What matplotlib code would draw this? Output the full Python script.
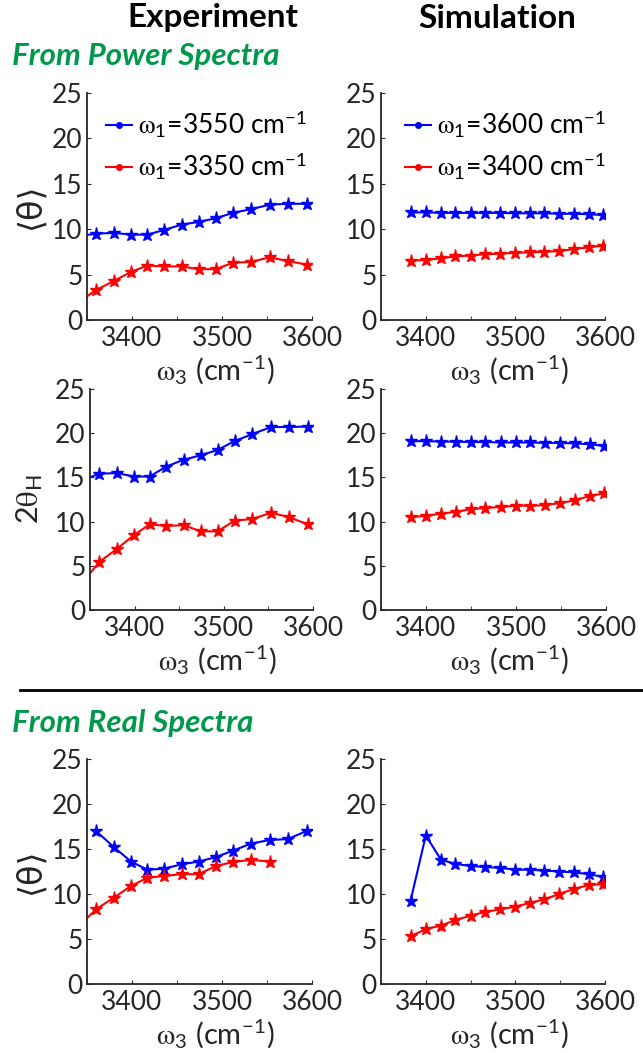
import numpy as np
import matplotlib
matplotlib.use('Agg')
import matplotlib.pyplot as plt
from matplotlib.lines import Line2D
from matplotlib.ticker import MultipleLocator

plt.rcParams['font.family'] = ['Lato', 'DejaVu Sans']
plt.rcParams['mathtext.fontset'] = 'stix'

# omega_3 axes (first experimental point sits just left of the window, so the line runs to the edge)
exp_w3 = [3341, 3360, 3380, 3399, 3417, 3435, 3455, 3474, 3493, 3512, 3532, 3553, 3573, 3594]
sim_w3 = [3383, 3400, 3417, 3433, 3450, 3466, 3483, 3500, 3516, 3532, 3549, 3565, 3582, 3598]

# From power spectra, <theta>
pow_exp_hi = [9.25, 9.5, 9.6, 9.4, 9.4, 9.9, 10.5, 10.8, 11.2, 11.8, 12.2, 12.7, 12.8, 12.8]
pow_exp_lo = [2.0, 3.3, 4.3, 5.3, 6.0, 5.9, 5.9, 5.6, 5.6, 6.3, 6.4, 6.9, 6.5, 6.1]
pow_sim_hi = [11.85, 11.85, 11.8, 11.8, 11.8, 11.8, 11.8, 11.75, 11.75, 11.75, 11.7, 11.7, 11.65, 11.55]
pow_sim_lo = [6.55, 6.6, 6.8, 7.0, 7.1, 7.25, 7.3, 7.4, 7.45, 7.5, 7.6, 7.8, 8.0, 8.2]

# From power spectra, 2 theta_H
hw_exp_hi = [14.65, 15.4, 15.5, 15.1, 15.1, 16.2, 17.0, 17.5, 18.1, 19.1, 19.9, 20.7, 20.7, 20.75]
hw_exp_lo = [2.98, 5.4, 6.9, 8.45, 9.7, 9.5, 9.6, 8.9, 8.9, 10.1, 10.3, 11.0, 10.5, 9.7]
hw_sim_hi = [19.1, 19.1, 19.05, 19.05, 19.0, 19.0, 18.95, 18.95, 18.95, 18.9, 18.9, 18.85, 18.75, 18.55]
hw_sim_lo = [10.5, 10.65, 10.9, 11.1, 11.4, 11.55, 11.65, 11.8, 11.8, 11.85, 12.1, 12.4, 12.9, 13.2]

# From real spectra, <theta>
re_exp_hi = [np.nan, 17.0, 15.2, 13.6, 12.7, 12.8, 13.3, 13.6, 14.1, 14.8, 15.6, 16.0, 16.1, 17.0]
re_exp_lo = [6.43, 8.3, 9.6, 10.9, 11.8, 12.0, 12.2, 12.2, 13.1, 13.55, 13.8, 13.6, np.nan, np.nan]
re_sim_hi = [9.25, 16.5, 13.8, 13.35, 13.1, 13.0, 12.9, 12.7, 12.7, 12.6, 12.5, 12.4, 12.2, 11.9]
re_sim_lo = [5.3, 6.1, 6.5, 7.1, 7.6, 8.0, 8.3, 8.6, 9.0, 9.4, 10.0, 10.55, 11.0, 11.1]

exp_labels = [r'$\mathrm{\omega}_{\mathregular{1}}$=3550 cm$^{\mathregular{-1}}$',
              r'$\mathrm{\omega}_{\mathregular{1}}$=3350 cm$^{\mathregular{-1}}$']
sim_labels = [r'$\mathrm{\omega}_{\mathregular{1}}$=3600 cm$^{\mathregular{-1}}$',
              r'$\mathrm{\omega}_{\mathregular{1}}$=3400 cm$^{\mathregular{-1}}$']

XLAB = r'$\mathrm{\omega}_{\mathregular{3}}$ (cm$^{\mathregular{-1}}$)'
AX_COL = '#262626'
W, H = 643.0, 1053.0


def make_ax(fig, x0, x1, ytop, ybot):
    ax = fig.add_axes([x0 / W, 1 - ybot / H, (x1 - x0) / W, (ybot - ytop) / H])
    for s in ['top', 'right']:
        ax.spines[s].set_visible(False)
    for s in ['left', 'bottom']:
        ax.spines[s].set_color(AX_COL)
        ax.spines[s].set_linewidth(1.3)
    ax.set_xlim(3350, 3600)
    ax.set_ylim(0, 25)
    ax.xaxis.set_major_locator(MultipleLocator(100))
    ax.xaxis.set_minor_locator(MultipleLocator(50))
    ax.yaxis.set_major_locator(MultipleLocator(5))
    ax.tick_params(which='both', direction='in', colors=AX_COL, labelsize=19, length=3)
    ax.tick_params(axis='x', pad=4)
    ax.tick_params(axis='y', pad=3)
    ax.set_xlabel(XLAB, fontsize=21, color=AX_COL)
    ax.xaxis.set_label_coords(0.5 + 16.0 / (x1 - x0), -33.0 / (ybot - ytop))
    return ax


def draw(ax, x, hi, lo):
    ax.plot(x, hi, '-*', color='b', lw=1.5, ms=9.5)
    ax.plot(x, lo, '-*', color='r', lw=1.5, ms=9.5)


def add_legend(ax, labels, anchor):
    hs = [Line2D([], [], color='b', marker='.', ms=8, lw=1.5),
          Line2D([], [], color='r', marker='.', ms=8, lw=1.5)]
    ax.legend(hs, labels, loc='upper left', bbox_to_anchor=anchor, frameon=False,
              fontsize=19, handlelength=1.0, handletextpad=0.2, borderpad=0,
              borderaxespad=0, labelspacing=0.4)


def theta_label(ax):
    ax.set_ylabel('\u27e8\u03b8\u27e9', fontsize=24, color=AX_COL, family=['DejaVu Sans'])
    ax.yaxis.set_label_coords(-0.18, 0.5)


fig = plt.figure(figsize=(6.43, 10.53), dpi=100)

ax1 = make_ax(fig, 87, 312, 93, 320)
draw(ax1, exp_w3, pow_exp_hi, pow_exp_lo)
add_legend(ax1, exp_labels, (0.084, 0.93))
theta_label(ax1)

ax2 = make_ax(fig, 381, 605, 93, 320)
draw(ax2, sim_w3, pow_sim_hi, pow_sim_lo)
add_legend(ax2, sim_labels, (0.107, 0.93))

ax3 = make_ax(fig, 90, 313, 389, 610)
draw(ax3, exp_w3, hw_exp_hi, hw_exp_lo)
ax3.set_ylabel(r'2$\mathrm{\theta}_{\mathregular{H}}$', fontsize=22, color=AX_COL)
ax3.yaxis.set_label_coords(-0.2, 0.5)

ax4 = make_ax(fig, 381, 606, 389, 610)
draw(ax4, sim_w3, hw_sim_hi, hw_sim_lo)

ax5 = make_ax(fig, 87, 312, 759, 984)
draw(ax5, exp_w3, re_exp_hi, re_exp_lo)
theta_label(ax5)

ax6 = make_ax(fig, 381, 605, 759, 984)
draw(ax6, sim_w3, re_sim_hi, re_sim_lo)

# column headers and section labels
fig.text(213 / W, 1 - 18 / H, 'Experiment', ha='center', va='center', fontsize=24, fontweight='bold')
fig.text(497 / W, 1 - 18 / H, 'Simulation', ha='center', va='center', fontsize=24, fontweight='bold')
green = '#00994c'
fig.text(12 / W, 1 - 56 / H, 'From Power Spectra', ha='left', va='center', fontsize=22.5,
         fontweight='bold', style='italic', color=green)
fig.text(12 / W, 1 - 723 / H, 'From Real Spectra', ha='left', va='center', fontsize=22.5,
         fontweight='bold', style='italic', color=green)
fig.add_artist(Line2D([20 / W, 1.0], [1 - 690 / H, 1 - 690 / H], color='k', lw=2))

fig.savefig('out.png', dpi=100)
